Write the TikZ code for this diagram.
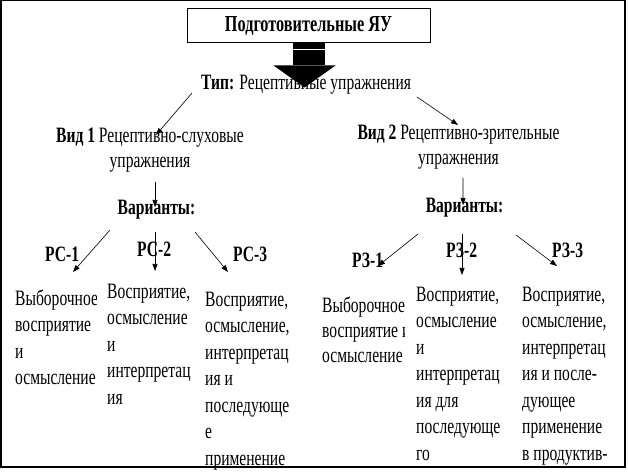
\documentclass[tikz,border=0pt]{standalone}
\usepackage{fontspec}
\setmainfont[FakeStretch=0.71]{Liberation Serif}
\usetikzlibrary{arrows.meta}

\tikzset{
    lbl/.style={inner sep=0pt, font=\fontsize{22}{26}\selectfont},
    boldlbl/.style={inner sep=0pt, font=\fontsize{22}{26}\selectfont\bfseries},
    collbl/.style={inner sep=0pt, anchor=base west, align=left,
        font=\fontsize{22}{26.5}\selectfont},
    link/.style={-{Triangle[length=7bp,width=5bp]}, line width=0.6bp},
}

\begin{document}
\begin{tikzpicture}[x=1bp, y=-1bp]
        \useasboundingbox (0,0) rectangle (628,474);
        \draw [line width=1.5bp] (0.75,0.75) rectangle (625,467);

        % top box
        \node[draw, line width=1bp, minimum width=243bp, minimum height=34bp,
              inner sep=0pt, font=\fontsize{23}{24}\selectfont\bfseries]
            (top) at (308.5,26) {Подготовительные ЯУ};

        \node[lbl, anchor=base west] (type) at (201,90)
            {\textbf{Тип:} Рецептивные упражнения};

        % big arrow
        \fill (top.south) ++(-16,0) rectangle ++(32,22);
        \fill (top.south) ++(-35,22) -- ++(62,0) -- ++(-31,22) -- cycle;
        \draw [white, line width=1bp] (top.south) ++(-16,6) -- ++(32,0);

        % multi-line nodes sit on the baseline of their last line
        \node[lbl, align=center, anchor=base] (kind1) at (150,168)
            {\textbf{Вид 1} Рецептивно-слуховые\\упражнения};
        \node[lbl, align=center, anchor=base] (kind2) at (458.5,165)
            {\textbf{Вид 2} Рецептивно-зрительные\\упражнения};

        \node[boldlbl, anchor=base] (var1) at (156.5,215) {Варианты:};
        \node[boldlbl, anchor=base] (var2) at (464.5,213) {Варианты:};

        \node[boldlbl, anchor=base west] (rs1) at (45,262) {РС-1};
        \node[boldlbl, anchor=base west] (rs2) at (137,257) {РС-2};
        \node[boldlbl, anchor=base west] (rs3) at (233,262) {РС-3};
        \node[boldlbl, anchor=base west] (rz1) at (352,268) {РЗ-1};
        \node[boldlbl, anchor=base west] (rz2) at (446,258) {РЗ-2};
        \node[boldlbl, anchor=base west] (rz3) at (552,258) {РЗ-3};

        % columns
        \begin{scope}
            \clip (10,280) rectangle (96,400);
            \node[collbl] (rsone) at (15,384.5)
                {Выборочное\\восприятие\\и\\осмысление};
        \end{scope}
        \node[collbl] (rstwo) at (107,404)
            {Восприятие,\\осмысление\\и\\интерпретац\\ия};
        \node[collbl] (rsthree) at (205,465)
            {Восприятие,\\осмысление,\\интерпретац\\ия и\\последующе\\е\\применение};
        \begin{scope}
            \clip (315,285) rectangle (404,400);
            \node[collbl, font=\fontsize{22}{25}\selectfont] (rzone) at (322,362)
                {Выборочное\\восприятие и\\осмысление};
        \end{scope}
        \node[collbl] (rztwo) at (416,460)
            {Восприятие,\\осмысление\\и\\интерпретац\\ия для\\последующе\\го};
        \node[collbl] (rzthree) at (522,460)
            {Восприятие,\\осмысление,\\интерпретац\\ия и после-\\дующее\\применение\\в продуктив-};

        % links
        \draw [link] ([shift={(-9,3)}]type.base west) -- ([shift={(6,-33)}]kind1.base);
        \draw [link] ([shift={(216,7)}]type.base west) -- ([shift={(-0.5,-40)}]kind2.base);
        \draw [link] ([shift={(5,14)}]kind1.base) -- ([shift={(-1.5,-8)}]var1.base);
        \draw [link] ([shift={(4.5,13)}]kind2.base) -- ([shift={(-1.5,-8)}]var2.base);
        \draw [link] ([shift={(-46.5,15)}]var1.base) -- ([shift={(28,10)}]rs1.base west);
        \draw [link] ([shift={(-1.5,17)}]var1.base) -- ([shift={(18,14)}]rs2.base west);
        \draw [link] ([shift={(38.5,17)}]var1.base) -- ([shift={(-5,10)}]rs3.base west);
        \draw [link] ([shift={(-46.5,21)}]var2.base) -- ([shift={(26,-2)}]rz1.base west);
        \draw [link] ([shift={(-2.5,21)}]var2.base) -- ([shift={(16,17)}]rz2.base west);
        \draw [link] ([shift={(51.5,22)}]var2.base) -- ([shift={(5,8)}]rz3.base west);

\end{tikzpicture}
\end{document}
